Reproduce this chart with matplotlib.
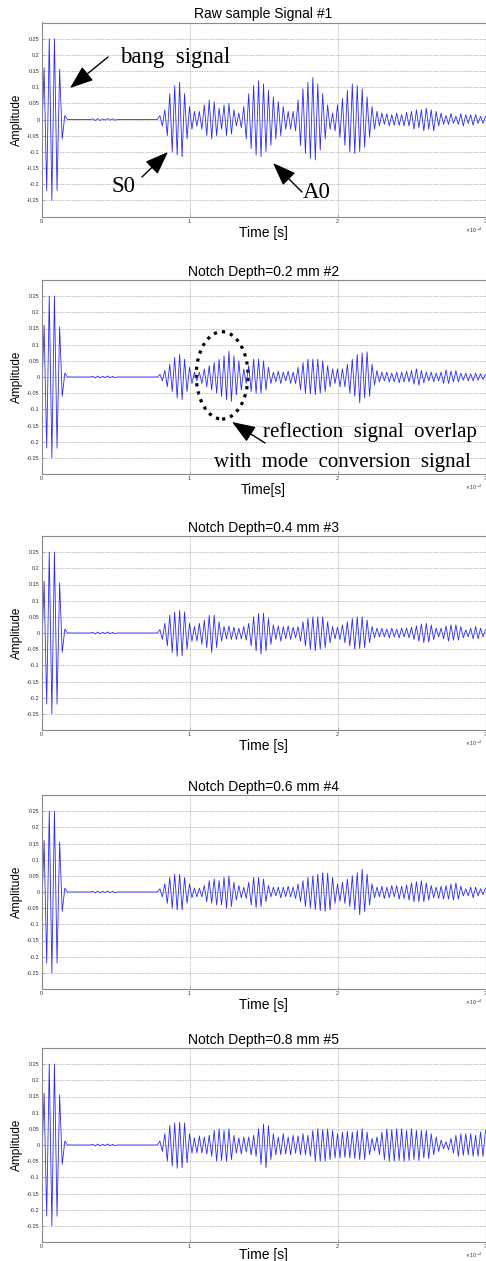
import matplotlib.pyplot as plt
import numpy as np
from matplotlib.patches import Ellipse

plt.rcParams['font.family'] = ['Liberation Sans', 'DejaVu Sans']

W, H = 486, 1261

# time in units of 1e-4 s, amplitudes in 1/1000
BANG_STEP = 0.0175
HALF_PERIOD = 1.0 / 60
QUIET_START = 0.33
ECHO_START = 0.8 - HALF_PERIOD

# excitation burst, same in every record (successive peaks)
bang = [-80, 160, -220, 250, -250, 250, -220, 155, -60, 12, 0]
quiet = [0, 2, -3, 3, -3, 2, -2, 3, -2, 2, -2, 0]

# received signal, successive half-cycle peaks from t = 0.8 (one row per 0.1)
echo_raw = [0,
    12, -20, 30, -50, 80, -100,
    105, -110, 115, -115, 80, -60,
    40, -30, 25, -20, 25, -30,
    45, -50, 60, -60, 55, -50,
    35, -30, 45, -50, 50, -45,
    30, -20, 20, -25, 40, -60,
    80, -90, 105, -110, 120, -115,
    110, -100, 90, -80, 70, -60,
    55, -50, 40, -30, 25, -30,
    25, -35, 60, -80, 95, -105,
    115, -120, 130, -125, 110, -95,
    80, -60, 45, -30, 20, -35,
    45, -55, 65, -80, 90, -100,
    110, -105, 105, -100, 95, -85,
    70, -55, 40, -30, 25, -20,
    20, -15, 18, -20, 15, -18,
    20, -18, 15, -20, 22, -20,
    25, -30, 30, -25, 30, -35,
    35, -30, 30, -35, 25, -20,
    20, -15, 12, -15, 18, -12,
    10, -15, 18, -20, 15, -12,
    15, -18, 15, -12, 10, -12,
    10]

echo_02 = [0,
    8, -12, 20, -30, 40, -45,
    60, -65, 70, -70, 55, -45,
    30, -20, 15, -12, 15, -20,
    25, -30, 35, -40, 45, -50,
    55, -60, 65, -70, 80, -75,
    65, -55, 50, -40, 25, -20,
    35, -45, 55, -50, 55, -50,
    50, -40, 30, -20, 15, -15,
    18, -20, 15, -12, 18, -20,
    15, -20, 30, -40, 45, -50,
    55, -52, 55, -55, 55, -50,
    50, -45, 35, -30, 25, -20,
    25, -30, 25, -30, 40, -50,
    55, -60, 70, -80, 75, -65,
    78, -60, 40, -25, 20, -15,
    15, -12, 15, -15, 12, -15,
    15, -18, 15, -15, 18, -15,
    20, -22, 25, -25, 20, -18,
    15, -12, 15, -15, 12, -12,
    15, -20, 22, -20, 18, -15,
    20, -15, 12, -10, 12, -12,
    10, -12, 12, -10, 10, -8,
    8]

echo_04 = [0,
    10, -20, 30, -40, 55, -60,
    65, -72, 70, -70, 65, -50,
    30, -25, 20, -25, 30, -35,
    40, -45, 55, -60, 55, -45,
    35, -25, 20, -18, 22, -20,
    18, -20, 15, -18, 20, -22,
    30, -40, 50, -55, 60, -65,
    62, -55, 45, -35, 25, -20,
    22, -25, 20, -18, 22, -20,
    18, -15, 20, -25, 35, -40,
    45, -50, 50, -55, 50, -50,
    50, -45, 35, -30, 20, -18,
    18, -20, 25, -30, 35, -40,
    45, -50, 50, -48, 50, -45,
    40, -30, 20, -15, 15, -12,
    15, -12, 12, -15, 15, -12,
    12, -15, 15, -12, 15, -15,
    18, -20, 22, -25, 28, -30,
    30, -28, 25, -20, 15, -12,
    15, -18, 22, -25, 25, -22,
    25, -22, 20, -15, 10, -12,
    15, -18, 20, -18, 15, -12,
    10]

echo_06 = [0,
    10, -15, 25, -35, 45, -50,
    55, -55, 55, -55, 45, -35,
    25, -18, 12, -15, 12, -15,
    20, -30, 35, -35, 40, -40,
    35, -40, 45, -50, 50, -45,
    30, -25, 20, -18, 15, -20,
    30, -40, 45, -48, 45, -45,
    40, -30, 20, -15, 15, -12,
    15, -18, 15, -15, 18, -15,
    15, -20, 25, -30, 35, -45,
    45, -50, 50, -55, 55, -58,
    60, -60, 58, -55, 45, -35,
    25, -28, 30, -35, 40, -45,
    50, -55, 60, -70, 70, -60,
    55, -40, 25, -18, 15, -15,
    18, -20, 15, -18, 20, -15,
    20, -22, 18, -20, 22, -25,
    28, -30, 32, -30, 35, -30,
    28, -25, 20, -18, 15, -20,
    18, -22, 20, -22, 25, -25,
    28, -22, 18, -12, 10, -12,
    15, -18, 15, -12, 10, -8,
    12]

echo_08 = [0,
    12, -20, 35, -50, 60, -65,
    68, -72, 70, -70, 68, -55,
    35, -25, 22, -25, 28, -25,
    25, -28, 30, -35, 45, -50,
    50, -48, 45, -50, 50, -45,
    30, -25, 22, -28, 25, -22,
    25, -30, 30, -35, 50, -60,
    65, -70, 60, -45, 35, -30,
    25, -30, 35, -28, 25, -30,
    30, -25, 28, -30, 35, -30,
    30, -35, 45, -50, 50, -50,
    48, -50, 50, -45, 45, -40,
    35, -40, 40, -38, 42, -40,
    40, -42, 45, -45, 50, -45,
    40, -30, 20, -18, 25, -30,
    40, -45, 50, -50, 48, -50,
    50, -48, 50, -50, 45, -48,
    50, -45, 45, -48, 45, -40,
    45, -42, 35, -30, 25, -20,
    15, -12, 10, -15, 20, -25,
    30, -35, 35, -32, 35, -30,
    35, -35, 30, -35, 40, -35,
    45]

titles = ["Raw sample Signal #1", "Notch Depth=0.2 mm #2", "Notch Depth=0.4 mm #3",
          "Notch Depth=0.6 mm #4", "Notch Depth=0.8 mm #5"]
xlabels = ["Time [s]", "Time[s]", "Time [s]", "Time [s]", "Time [s]"]
echoes = [echo_raw, echo_02, echo_04, echo_06, echo_08]

y_ticks = [-0.25, -0.2, -0.15, -0.1, -0.05, 0, 0.05, 0.1, 0.15, 0.2, 0.25]
x_ticks = [0, 1, 2, 3]


def build_signal(echo):
    t = np.concatenate([np.arange(len(bang)) * BANG_STEP,
                        QUIET_START + np.arange(len(quiet)) * HALF_PERIOD,
                        ECHO_START + np.arange(len(echo)) * HALF_PERIOD])
    y = np.array(bang + quiet + echo) / 1000.0
    return t, y


def px(x, y):
    return x / W, 1 - y / H


fig = plt.figure(figsize=(W / 100, H / 100), dpi=100)
tops = [22.5, 280, 536, 795, 1048]
label_gap = [9.0, 9.0, 9.0, 9.0, 6.0]
ax_h = 194
left, right = 41.5, 485.5

axes = []
for i, echo in enumerate(echoes):
    top = tops[i]
    ax = fig.add_axes([left / W, 1 - (top + ax_h) / H, (right - left) / W, ax_h / H])
    t, y = build_signal(echo)
    ax.plot(t, y, color='#2a2aff', lw=0.6)
    ax.set_xlim(0, 3)
    ax.set_ylim(-0.3, 0.3)
    ax.set_yticks(y_ticks)
    ax.set_yticklabels(['%g' % v for v in y_ticks])
    ax.set_xticks(x_ticks)
    ax.set_xticklabels([str(v) for v in x_ticks])
    ax.tick_params(labelsize=4, labelcolor='#333333', length=2, width=0.4,
                   color='#888888', direction='in', pad=1.5)
    ax.grid(True, color='#808080', lw=0.5, linestyle=(0, (1, 1.5)))
    for s in ax.spines.values():
        s.set_color('#8a8a8a')
        s.set_linewidth(0.8)
    ax.set_title(titles[i], fontsize=10, pad=3)
    ax.set_xlabel(xlabels[i], fontsize=10)
    ax.xaxis.set_label_coords(0.5, -label_gap[i] / ax_h)
    ax.text(0.995, -13.5 / ax_h, r'$\times\,10^{-4}$', transform=ax.transAxes,
            ha='right', va='center', fontsize=3.5, color='#333333')
    fig.text(*px(17, top + ax_h / 2), "Amplitude", rotation=90, ha='center',
             va='center', fontsize=8.5)
    axes.append(ax)

serif = ['Liberation Serif', 'DejaVu Serif']
arrow = dict(arrowstyle='-|>,head_length=1.2,head_width=0.45', color='black',
             lw=1.0, mutation_scale=12, shrinkA=0, shrinkB=0)


def note(ax, tail, tip):
    ax.annotate('', xy=px(*tip), xytext=px(*tail), xycoords='figure fraction',
                textcoords='figure fraction', arrowprops=arrow, annotation_clip=False)


# panel 1 labels
fig.text(*px(175, 57), "bang  signal", family=serif, fontsize=16.5, ha='center', va='center')
note(axes[0], (108, 57), (70, 88))
fig.text(*px(123, 187), "S0", family=serif, fontsize=16.5, ha='center', va='center')
note(axes[0], (142, 177), (168, 152))
fig.text(*px(317, 193), "A0", family=serif, fontsize=16.5, ha='center', va='center')
note(axes[0], (302, 192), (273, 163))

# panel 2 overlap marker
ell = Ellipse((1.22, 0.005), 0.35, 0.27, fill=False, ec='black', lw=2.3,
              linestyle=(0, (1, 1.6)), clip_on=False)
axes[1].add_patch(ell)
note(axes[1], (265, 443), (232, 422))
fig.text(*px(370, 432), "reflection  signal  overlap", family=serif, fontsize=15,
         ha='center', va='center')
fig.text(*px(342, 462), "with  mode  conversion  signal", family=serif, fontsize=15,
         ha='center', va='center')

fig.savefig('out.png', dpi=100)
